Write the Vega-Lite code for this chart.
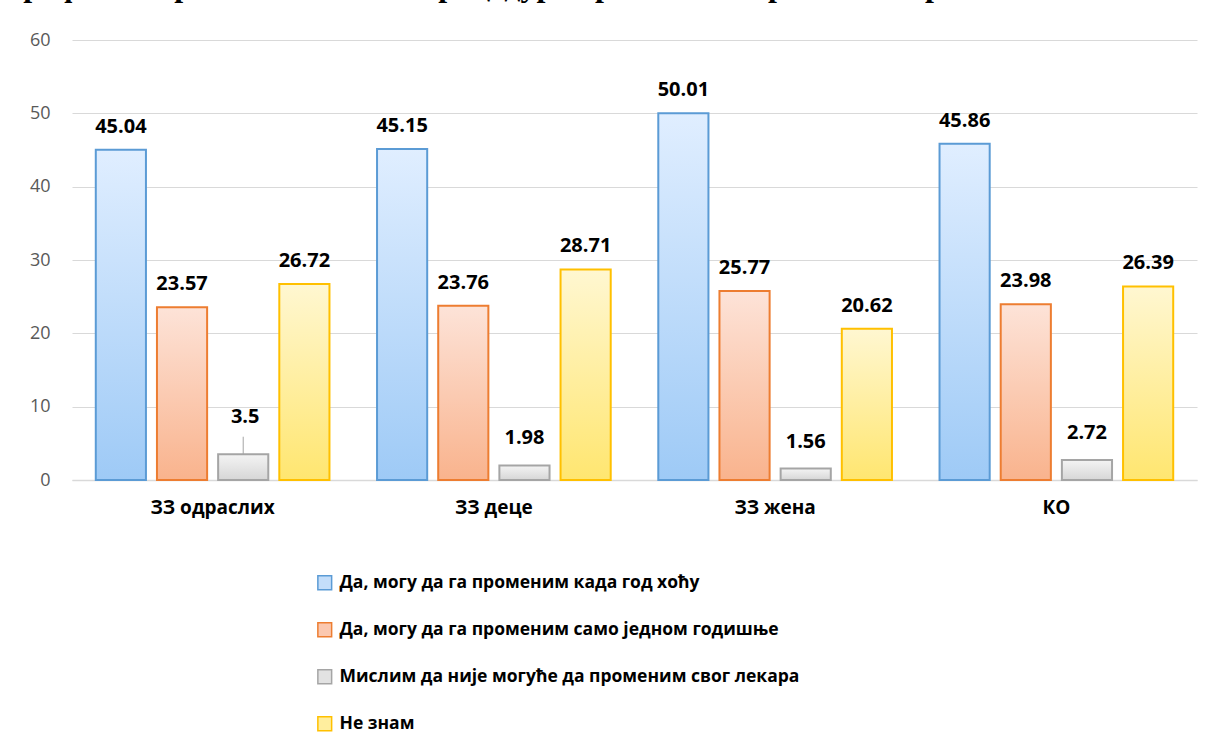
{
  "$schema": "https://vega.github.io/schema/vega-lite/v6.json",
  "autosize": {"type": "none"},
  "padding": {"left": 72, "top": 40, "right": 16, "bottom": 260},
  "width": 1125,
  "height": 440,
  "background": "white",
  "title": {
    "text": "Графикон бр. 4 - Познавање процедуре промене изабраног лекара",
    "anchor": "start",
    "frame": "group",
    "dx": -67,
    "offset": 3,
    "baseline": "alphabetic",
    "font": "Liberation Serif",
    "fontSize": 32,
    "fontWeight": "bold",
    "color": "black"
  },
  "data": {
    "values": [
      {"group": "ЗЗ одраслих", "answer": "Да, могу да га променим када год хоћу", "value": 45.04},
      {"group": "ЗЗ одраслих", "answer": "Да, могу да га променим само једном годишње", "value": 23.57},
      {"group": "ЗЗ одраслих", "answer": "Мислим да није могуће да променим свог лекара", "value": 3.5},
      {"group": "ЗЗ одраслих", "answer": "Не знам", "value": 26.72},
      {"group": "ЗЗ деце", "answer": "Да, могу да га променим када год хоћу", "value": 45.15},
      {"group": "ЗЗ деце", "answer": "Да, могу да га променим само једном годишње", "value": 23.76},
      {"group": "ЗЗ деце", "answer": "Мислим да није могуће да променим свог лекара", "value": 1.98},
      {"group": "ЗЗ деце", "answer": "Не знам", "value": 28.71},
      {"group": "ЗЗ жена", "answer": "Да, могу да га променим када год хоћу", "value": 50.01},
      {"group": "ЗЗ жена", "answer": "Да, могу да га променим само једном годишње", "value": 25.77},
      {"group": "ЗЗ жена", "answer": "Мислим да није могуће да променим свог лекара", "value": 1.56},
      {"group": "ЗЗ жена", "answer": "Не знам", "value": 20.62},
      {"group": "КО", "answer": "Да, могу да га променим када год хоћу", "value": 45.86},
      {"group": "КО", "answer": "Да, могу да га променим само једном годишње", "value": 23.98},
      {"group": "КО", "answer": "Мислим да није могуће да променим свог лекара", "value": 2.72},
      {"group": "КО", "answer": "Не знам", "value": 26.39}
    ]
  },
  "encoding": {
    "x": {
      "field": "group",
      "type": "nominal",
      "sort": null,
      "scale": {"paddingInner": 0.13, "paddingOuter": 0.065},
      "axis": {
        "title": null,
        "labelAngle": 0,
        "labelFont": "Open Sans",
        "labelFontSize": 19,
        "labelFontWeight": "bold",
        "labelColor": "black",
        "labelPadding": 18,
        "ticks": false,
        "domainColor": "#d9d9d9",
        "domainWidth": 1.5
      }
    },
    "xOffset": {
      "field": "answer",
      "type": "nominal",
      "sort": null,
      "scale": {"paddingInner": 0.18, "paddingOuter": 0.09}
    },
    "y": {
      "field": "value",
      "type": "quantitative",
      "scale": {"domain": [0, 60], "nice": false},
      "axis": {
        "title": null,
        "values": [0, 10, 20, 30, 40, 50, 60],
        "labelFont": "Open Sans",
        "labelFontSize": 18,
        "labelColor": "#595959",
        "labelPadding": 22,
        "ticks": false,
        "domain": false,
        "gridColor": "#d9d9d9",
        "gridWidth": 1.2
      }
    }
  },
  "layer": [
    {
      "transform": [{"filter": "datum.answer == 'Да, могу да га променим када год хоћу'"}],
      "mark": {"type": "bar", "stroke": "#5b9bd5", "strokeWidth": 2,
        "fill": {"gradient": "linear", "x1": 0, "y1": 0, "x2": 0, "y2": 1,
          "stops": [{"offset": 0, "color": "#e0eeff"}, {"offset": 1, "color": "#9ecaf6"}]}}
    },
    {
      "transform": [{"filter": "datum.answer == 'Да, могу да га променим само једном годишње'"}],
      "mark": {"type": "bar", "stroke": "#ed7d31", "strokeWidth": 2,
        "fill": {"gradient": "linear", "x1": 0, "y1": 0, "x2": 0, "y2": 1,
          "stops": [{"offset": 0, "color": "#fde3d8"}, {"offset": 1, "color": "#f9b38d"}]}}
    },
    {
      "transform": [{"filter": "datum.answer == 'Мислим да није могуће да променим свог лекара'"}],
      "mark": {"type": "bar", "stroke": "#a5a5a5", "strokeWidth": 2,
        "fill": {"gradient": "linear", "x1": 0, "y1": 0, "x2": 0, "y2": 1,
          "stops": [{"offset": 0, "color": "#f4f4f4"}, {"offset": 1, "color": "#d6d6d6"}]}}
    },
    {
      "transform": [{"filter": "datum.answer == 'Не знам'"}],
      "mark": {"type": "bar", "stroke": "#ffc000", "strokeWidth": 2,
        "fill": {"gradient": "linear", "x1": 0, "y1": 0, "x2": 0, "y2": 1,
          "stops": [{"offset": 0, "color": "#fff7d1"}, {"offset": 1, "color": "#ffe670"}]}}
    },
    {
      "mark": {"type": "square", "opacity": 0, "size": 1},
      "encoding": {
        "fill": {
          "field": "answer", "type": "nominal", "sort": null,
          "scale": {"range": ["#c4defa", "#fbc8b0", "#e2e2e2", "#ffee9e"]},
          "legend": {
            "title": null,
            "orient": "none",
            "legendX": 244,
            "legendY": 534,
            "direction": "vertical",
            "symbolType": "square",
            "symbolSize": 190,
            "symbolStrokeWidth": 1.5,
            "symbolOpacity": 1,
            "labelFont": "Open Sans",
            "labelFontSize": 17.5,
            "labelFontWeight": "bold",
            "labelColor": "black",
            "labelOffset": 6,
            "labelLimit": 800,
            "rowPadding": 26,
            "encode": {"symbols": {"update": {"opacity": {"value": 1}}}}
          }
        },
        "stroke": {
          "field": "answer", "type": "nominal", "sort": null,
          "scale": {"range": ["#5b9bd5", "#ed7d31", "#a5a5a5", "#ffc000"]},
          "legend": {
            "title": null,
            "orient": "none",
            "legendX": 244,
            "legendY": 534,
            "direction": "vertical",
            "symbolType": "square",
            "symbolSize": 190,
            "symbolStrokeWidth": 1.5,
            "symbolOpacity": 1,
            "labelFont": "Open Sans",
            "labelFontSize": 17.5,
            "labelFontWeight": "bold",
            "labelColor": "black",
            "labelOffset": 6,
            "labelLimit": 800,
            "rowPadding": 26,
            "encode": {"symbols": {"update": {"opacity": {"value": 1}}}}
          }
        }
      }
    },
    {
      "transform": [{"filter": "datum.answer != 'Мислим да није могуће да променим свог лекара'"}],
      "mark": {"type": "text", "baseline": "alphabetic", "dy": -17, "font": "Open Sans", "fontSize": 20, "fontWeight": "bold", "color": "black"},
      "encoding": {"text": {"field": "value", "type": "quantitative"}}
    },
    {
      "transform": [{"filter": "datum.answer == 'Мислим да није могуће да променим свог лекара' && datum.value != 3.5"}],
      "mark": {"type": "text", "baseline": "alphabetic", "dy": -21, "font": "Open Sans", "fontSize": 20, "fontWeight": "bold", "color": "black"},
      "encoding": {"text": {"field": "value", "type": "quantitative"}}
    },
    {
      "transform": [{"filter": "datum.answer == 'Мислим да није могуће да променим свог лекара' && datum.value == 3.5"}],
      "mark": {"type": "text", "baseline": "alphabetic", "dy": -31, "dx": 2, "font": "Open Sans", "fontSize": 20, "fontWeight": "bold", "color": "black"},
      "encoding": {"text": {"field": "value", "type": "quantitative"}}
    },
    {
      "transform": [{"filter": "datum.answer == 'Мислим да није могуће да променим свог лекара' && datum.value == 3.5"}],
      "mark": {"type": "rule", "color": "#a5a5a5", "strokeWidth": 1},
      "encoding": {"y2": {"datum": 5.9}}
    }
  ],
  "config": {
    "view": {"stroke": null}
  }
}
